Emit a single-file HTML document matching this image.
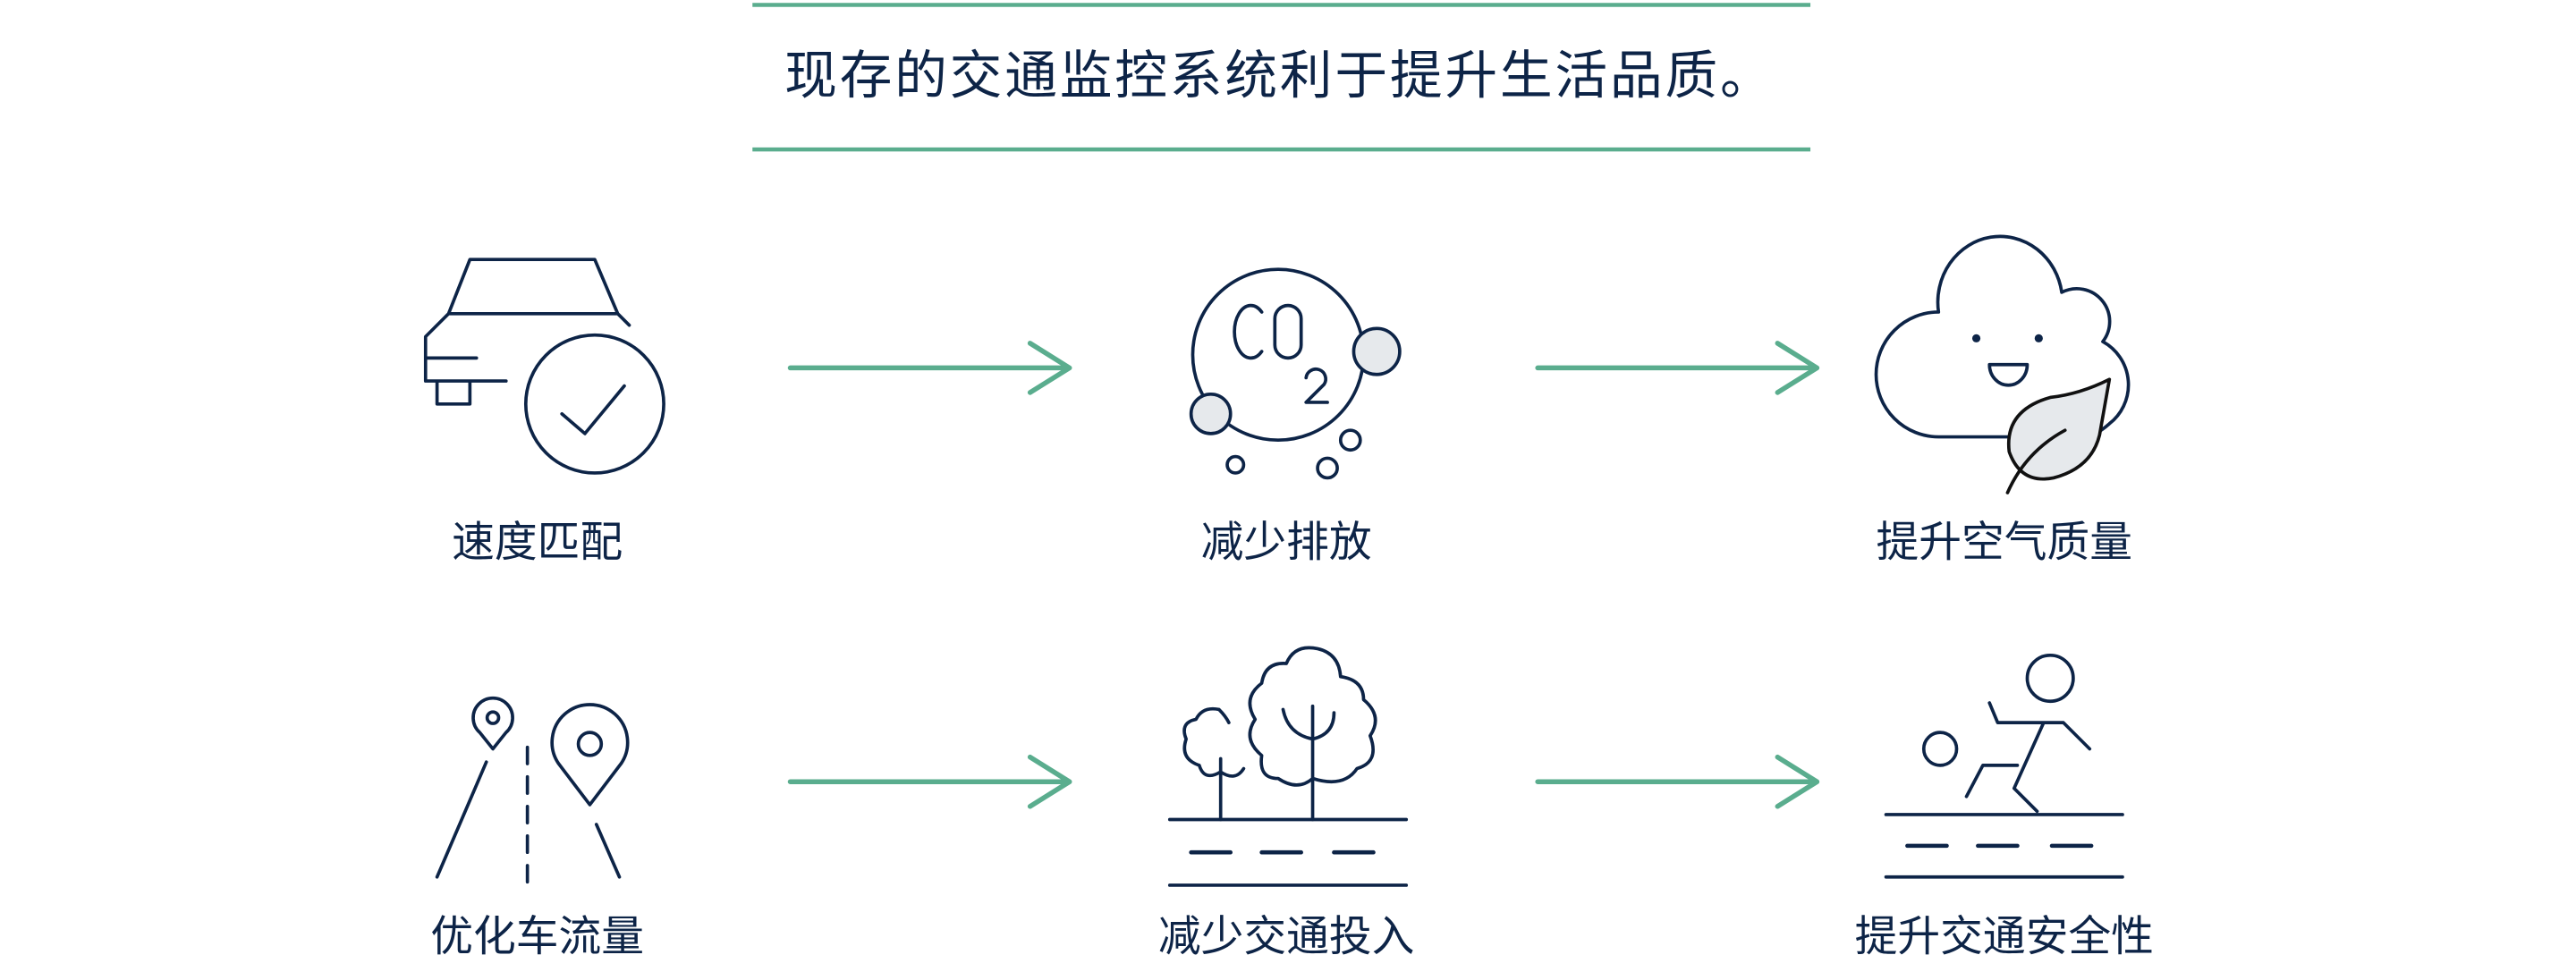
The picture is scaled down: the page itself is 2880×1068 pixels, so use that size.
<!DOCTYPE html>
<html><head><meta charset="utf-8"><style>
html,body{margin:0;padding:0;background:#fff;}
svg{display:block}
text{font-family:"Liberation Sans","Noto Sans CJK SC",sans-serif;fill:#0d2447}
</style></head><body>
<svg width="2880" height="1068" viewBox="0 0 1568 581.5" xmlns="http://www.w3.org/2000/svg">
<g stroke="#5aad8e" stroke-width="2.5" fill="none"><line x1="458" y1="3" x2="1102" y2="3"/><line x1="458" y1="91" x2="1102" y2="91"/></g>
<text x="779" y="57" font-size="32" text-anchor="middle" letter-spacing="1.5">现存的交通监控系统利于提升生活品质。</text>
<g stroke="#5aad8e" stroke-width="3" fill="none" stroke-linecap="round" stroke-linejoin="round">
<path d="M481 224H651M627 209L651 224L627 239"/>
<path d="M936 224H1106M1082 209L1106 224L1082 239"/>
<path d="M481 476H651M627 461L651 476L627 491"/>
<path d="M936 476H1106M1082 461L1106 476L1082 491"/>
</g>
<g stroke="#0d2447" stroke-width="2" fill="none" stroke-linecap="round" stroke-linejoin="round">
<path d="M273 191L286 158H362L376 191ZM376 191L383 198M273 191L259 205V232H308M259 218H290M266 232V246H286V232"/>
<circle cx="362" cy="246" r="42"/>
<path d="M342 252L356 264L380 235"/>
<circle cx="778" cy="216" r="52"/>
<circle cx="838" cy="214" r="14" fill="#e6e9ec"/>
<circle cx="737" cy="252" r="12" fill="#e6e9ec"/>
<circle cx="822" cy="268" r="6"/><circle cx="808" cy="285" r="6"/><circle cx="752" cy="283" r="5"/>
<path d="M768 190A10 16 0 1 0 768 214"/>
<rect x="776" y="186" width="16" height="32" rx="8"/>
<path d="M795 230A6 6 0 1 1 806 234L795 245H808"/>
<path d="M1180 266A38 38 0 0 1 1180 190A36 38 0 0 1 1255 178A20 20 0 0 1 1280 208A30 30 0 0 1 1284 258Q1275 266 1268 266H1180"/>
<circle cx="1203" cy="206" r="1.5" fill="#0d2447"/><circle cx="1241" cy="206" r="1.5" fill="#0d2447"/>
<path d="M1211 222H1234A11 12 0 0 1 1211 222Z"/>
<path d="M1284 231Q1266 240 1248 242Q1220 250 1223 275Q1230 295 1250 291Q1273 285 1278 265Z" fill="#e6e9ec" stroke="#111"/>
<path d="M1222 300Q1233 275 1257 262" stroke="#111"/>
<path d="M300 456L292 446A12 12 0 1 1 308 446Z"/><circle cx="300" cy="437" r="3.5"/>
<path d="M359 490L340 465A23 23 0 1 1 378 465Z"/><circle cx="359" cy="453" r="7"/>
<path d="M296 464L266 534M363 502L377 534"/>
<path d="M321 455V537" stroke-dasharray="10 8"/>
<path d="M712 499H856M712 539H856"/>
<path d="M725 519H749M768 519H792M812 519H836" stroke-width="2.5"/>
<path d="M743 462V499M799 430V499"/>
<path d="M743 470Q733 476 730 466Q718 462 722 450Q718 440 728 438Q732 430 742 432Q746 436 748 440M743 470Q752 476 757 468"/>
<path d="M799 474Q790 482 778 474Q766 474 768 460Q756 450 764 438Q756 425 768 416Q770 403 783 404Q788 392 802 395Q815 398 816 412Q830 414 830 426Q842 436 834 448Q840 464 826 468Q818 480 799 474Z"/>
<path d="M781 432Q784 447 799 450Q812 447 812 434"/>
<path d="M1148 496H1292M1148 534H1292"/>
<path d="M1161 515H1185M1204 515H1228M1249 515H1273" stroke-width="2.5"/>
<circle cx="1248" cy="413" r="14"/>
<circle cx="1181" cy="456" r="10"/>
<path d="M1211 428L1216 440H1256L1272 456M1244 440L1226 480L1240 494M1228 466H1207L1197 485"/>
</g>
<g font-size="26" text-anchor="middle">
<text x="327" y="339">速度匹配</text>
<text x="783" y="339">减少排放</text>
<text x="1220" y="339">提升空气质量</text>
<text x="327" y="579">优化车流量</text>
<text x="783" y="579">减少交通投入</text>
<text x="1220" y="579">提升交通安全性</text>
</g>
</svg>
</body></html>
